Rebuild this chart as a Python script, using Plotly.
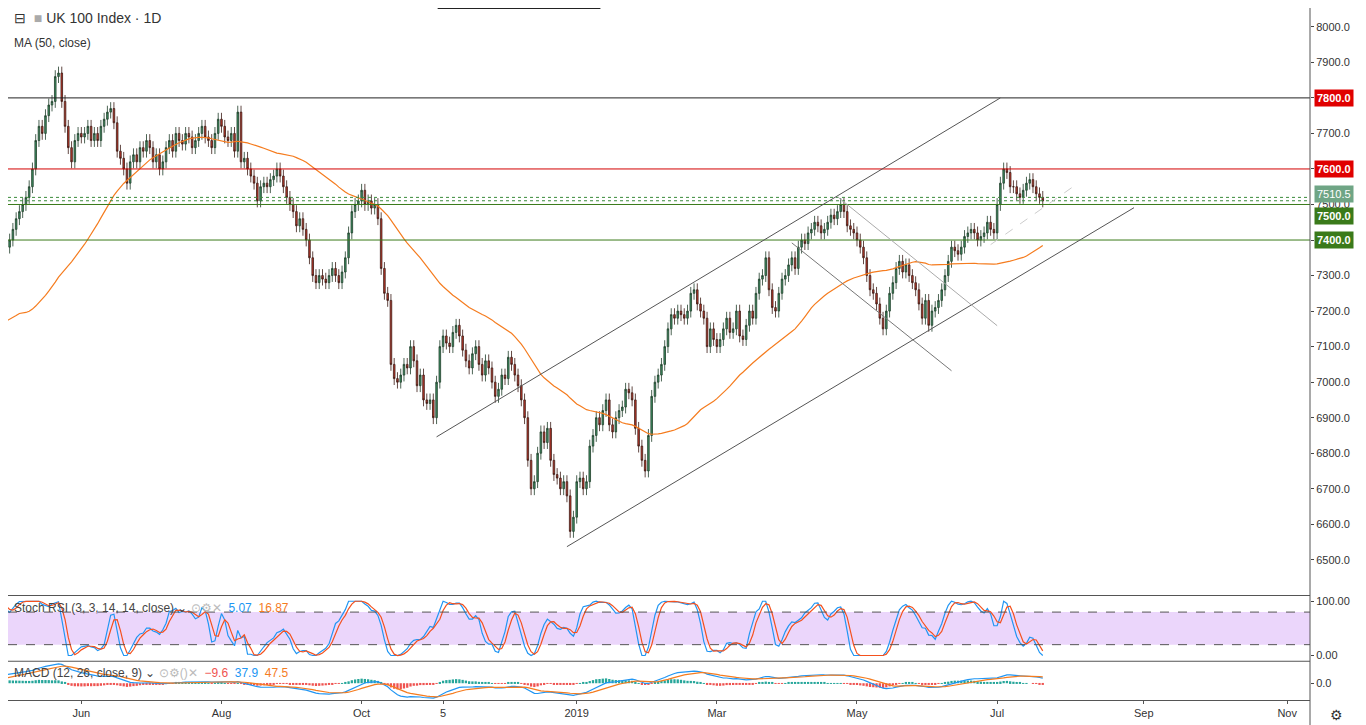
import pandas as pd
import numpy as np
import plotly.graph_objects as go

# ---------------- data (daily closes) ----------------
pre_closes = [7450,7420,7380,7300,7250,7260,7220,7180,7200,7230,7150,7170,7200,7180,7150,7100,7080,7050,7100,7060,
              7020,7000,6950,6920,6900,6940,6880,6980,7030,7050,7060,7100,7150,7200,7190,7180,7210,7260,7280,7300,
              7320,7350,7370,7390]
closes = [
 7350,7380,7400,7430,7460,7480,7500,7520,7550,7600,7680,7720,7700,7750,7780,7790,7860,7870,7790,7720,7660,7620,7680,7700,7690,
 7700,7720,7680,7700,7680,7720,7740,7760,7770,7730,7650,7630,7600,7560,7620,7640,7620,7660,7650,7680,7660,7620,7640,
 7600,7620,7660,7680,7650,7700,7680,7670,7700,7690,7660,7680,7700,7720,7690,7680,7660,7700,7740,7720,7690,7680,
 7700,7650,7760,7620,7630,7600,7580,7560,7510,7550,7560,7550,7570,7580,7600,7580,7550,7520,7500,7480,7440,7460,7430,
 7400,7350,7300,7280,7300,7290,7280,7300,7320,7300,7280,7310,7350,7420,7480,7500,7510,7540,7500,7510,
 7490,7500,7460,7320,7250,7230,7050,7010,7000,7020,7050,7040,7100,7060,6990,7020,6950,6940,6950,6900,7000,7100,7130,
 7110,7100,7140,7160,7130,7090,7060,7040,7080,7100,7050,7020,7060,7040,7000,6960,6980,7020,7010,7070,7050,7020,
 6990,6950,6900,6780,6700,6720,6800,6860,6830,6870,6780,6740,6730,6700,6720,6680,6580,6620,6720,
 6730,6700,6720,6820,6850,6900,6880,6920,6950,6880,6860,6900,6920,6930,6980,6970,6950,6870,6820,6780,6750,6850,
 6960,7000,7020,7050,7100,7150,7190,7180,7200,7190,7180,7200,7250,7260,7220,7200,7180,7100,7150,7120,
 7100,7120,7150,7180,7140,7150,7200,7130,7120,7160,7200,7180,7250,7290,7300,7350,7260,7210,7200,7250,7290,
 7300,7330,7350,7320,7380,7400,7390,7420,7430,7450,7440,7420,7430,7450,7470,7460,7480,7500,7480,7440,7430,7420,7400,
 7380,7350,7300,7260,7250,7220,7180,7150,7200,7250,7280,7320,7340,7310,7330,7300,7280,7260,7220,7180,7230,7160,
 7200,7210,7230,7260,7300,7340,7380,7370,7360,7380,7410,7420,7430,7420,7400,7410,7420,7450,7430,7420,
 7500,7560,7600,7590,7550,7550,7530,7520,7540,7560,7570,7550,7530,7520,7510,
]
levels = [7800, 7600, 7500, 7400]
level_colors = ["#222222", "#d40000", "#3a7a1a", "#3a7a1a"]
label_colors = ["#e00000", "#e00000", "#3a7a1a", "#3a7a1a"]
label_pos = [7800, 7600, 7468, 7400]
last_price = 7510.5
tick_months = ["2018-06-01","2018-08-01","2018-10-01","2018-11-05","2019-01-01","2019-03-01","2019-05-01","2019-07-01","2019-09-02","2019-11-01"]
tick_text = ["Jun","Aug","Oct","5","2019","Mar","May","Jul","Sep","Nov"]
trendlines = [
 (("2018-11-01",6846),("2019-07-02",7800),"#555555","solid"),
 (("2018-12-27",6537),("2019-08-28",7491),"#555555","solid"),
 (("2019-04-03",7392),("2019-06-11",7032),"#777777","solid"),
 (("2019-04-23",7522),("2019-07-01",7159),"#aaaaaa","solid"),
 (("2019-06-27",7387),("2019-08-05",7561),"#cccccc","dash"),
]

# ---------------- derived series ----------------
allc = pd.Series(pre_closes + closes, dtype=float)
alld = pd.bdate_range(end="2019-07-19", periods=len(allc))
opens = allc.shift(1).fillna(allc.iloc[0])
highs = np.maximum(opens, allc) + 18
lows = np.minimum(opens, allc) - 18
ma50 = allc.rolling(50, min_periods=1).mean()

delta = allc.diff()
up = delta.clip(lower=0).ewm(alpha=1/14, adjust=False).mean()
dn = (-delta.clip(upper=0)).ewm(alpha=1/14, adjust=False).mean()
rsi = 100 - 100/(1 + up/dn.replace(0, 1e-9))
st = (rsi - rsi.rolling(14).min()) / (rsi.rolling(14).max() - rsi.rolling(14).min()).replace(0, 1e-9) * 100
k = st.rolling(3).mean()
d = k.rolling(3).mean()
ema12 = allc.ewm(span=12, adjust=False).mean()
ema26 = allc.ewm(span=26, adjust=False).mean()
macd = ema12 - ema26
sig = macd.ewm(span=9, adjust=False).mean()
hist = macd - sig

n0 = len(pre_closes)
dates = alld[n0:]
sl = slice(n0, None)

fig = go.Figure()
fig.add_trace(go.Candlestick(x=dates, open=opens[sl], high=highs[sl], low=lows[sl], close=allc[sl],
    increasing=dict(line=dict(color="#1f3d2a", width=0.8), fillcolor="#3f8f63"),
    decreasing=dict(line=dict(color="#3a1a14", width=0.8), fillcolor="#c0392b"),
    whiskerwidth=0, xaxis="x", yaxis="y", showlegend=False, hoverinfo="skip"))
fig.add_trace(go.Scatter(x=dates, y=ma50[sl], mode="lines", line=dict(color="#f57c1f", width=1.2),
    xaxis="x", yaxis="y", showlegend=False, hoverinfo="skip"))
fig.add_trace(go.Scatter(x=dates, y=k[sl], mode="lines", line=dict(color="#2196f3", width=1.2), xaxis="x", yaxis="y2", showlegend=False))
fig.add_trace(go.Scatter(x=dates, y=d[sl], mode="lines", line=dict(color="#f4511e", width=1.2), xaxis="x", yaxis="y2", showlegend=False))
hcol = ["#26a69a" if h >= 0 else "#ef5350" for h in hist[sl]]
fig.add_trace(go.Bar(x=dates, y=hist[sl], marker=dict(color=hcol, line=dict(width=0)), xaxis="x", yaxis="y3", showlegend=False))
fig.add_trace(go.Scatter(x=dates, y=macd[sl], mode="lines", line=dict(color="#2196f3", width=1.2), xaxis="x", yaxis="y3", showlegend=False))
fig.add_trace(go.Scatter(x=dates, y=sig[sl], mode="lines", line=dict(color="#f57c1f", width=1.2), xaxis="x", yaxis="y3", showlegend=False))

shapes = []
for lv, c in zip(levels, level_colors):
    shapes.append(dict(type="line", xref="x domain", x0=0, x1=1, yref="y", y0=lv, y1=lv, line=dict(color=c, width=1)))
for yv in (7510.5, 7520):
    shapes.append(dict(type="line", xref="x domain", x0=0, x1=1, yref="y", y0=yv, y1=yv, line=dict(color="#3a8a3a", width=1, dash="dot")))
for (a, b, c, dsh) in trendlines:
    shapes.append(dict(type="line", xref="x", yref="y", x0=a[0], y0=a[1], x1=b[0], y1=b[1], line=dict(color=c, width=1, dash=dsh)))
shapes.append(dict(type="rect", xref="x domain", x0=0, x1=1, yref="y2", y0=20, y1=80, fillcolor="#e6ccfa", opacity=0.8, line=dict(width=0), layer="below"))
for yv in (20, 80):
    shapes.append(dict(type="line", xref="x domain", x0=0, x1=1, yref="y2", y0=yv, y1=yv, line=dict(color="#555", width=1, dash="dash")))
for yy in (0.056, 0.151):
    shapes.append(dict(type="line", xref="paper", yref="paper", x0=0, x1=1, y0=yy, y1=yy, line=dict(color="#555", width=1.2)))
shapes.append(dict(type="line", xref="paper", yref="paper", x0=1, x1=1, y0=-0.04, y1=1, line=dict(color="#555", width=1)))
shapes.append(dict(type="line", xref="paper", yref="paper", x0=0.33, x1=0.455, y0=1, y1=1, line=dict(color="#222", width=2)))

ann = []
for lv, lp, c in zip(levels, label_pos, label_colors):
    ann.append(dict(xref="paper", yref="y", x=1.003, y=lp, text=f"<b>{lv:.1f}</b>", showarrow=False, xanchor="left",
                    bgcolor=c, font=dict(color="white", size=11), borderpad=2))
ann.append(dict(xref="paper", yref="y", x=1.003, y=7530, text=f"{last_price:.1f}", showarrow=False, xanchor="left",
                bgcolor="#6fa585", font=dict(color="white", size=11), borderpad=2))
ann.append(dict(xref="paper", yref="paper", x=0.003, y=1.0, yanchor="top", xanchor="left", showarrow=False,
                text="⊟  <span style='color:#aaa'>■</span> UK 100 Index · 1D", font=dict(size=14, color="#333")))
ann.append(dict(xref="paper", yref="paper", x=0.003, y=0.962, yanchor="top", xanchor="left", showarrow=False,
                text="MA (50, close)", font=dict(size=12, color="#333")))
ann.append(dict(xref="paper", yref="paper", x=0.003, y=0.146, yanchor="top", xanchor="left", showarrow=False,
                text="Stoch RSI (3, 3, 14, 14, close) ⌄ <span style='color:#bbb'>⊙⚙✕</span>  <span style='color:#2196f3'>5.07</span>  <span style='color:#f57c1f'>16.87</span>",
                font=dict(size=12, color="#444")))
ann.append(dict(xref="paper", yref="paper", x=0.003, y=0.052, yanchor="top", xanchor="left", showarrow=False,
                text="MACD (12, 26, close, 9) ⌄ <span style='color:#bbb'>⊙⚙()✕</span>  <span style='color:#ef5350'>−9.6</span>  <span style='color:#2196f3'>37.9</span>  <span style='color:#f57c1f'>47.5</span>",
                font=dict(size=12, color="#444")))
ann.append(dict(xref="paper", yref="paper", x=1.02, y=-0.022, yanchor="middle", xanchor="center", showarrow=False,
                text="⚙", font=dict(size=14, color="#333")))

fig.update_layout(
    width=1366, height=725, margin=dict(l=0, r=64, t=0, b=33, autoexpand=False),
    paper_bgcolor="white", plot_bgcolor="white", shapes=shapes, annotations=ann, bargap=0.3,
    font=dict(family="Arial, Liberation Sans", size=11, color="#333"),
    xaxis=dict(type="date", range=["2018-05-01 12:00", "2019-11-12"], rangebreaks=[dict(bounds=["sat", "mon"])],
               rangeslider=dict(visible=False), tickvals=tick_months, ticktext=tick_text, showgrid=False,
               ticks="outside", ticklen=3, tickcolor="#555", anchor="y3", showline=True, linecolor="#555",
               zeroline=False, automargin=False, tickfont=dict(size=11)),
    yaxis=dict(domain=[0.152, 1], range=[6401.5, 8053], side="right", tickvals=list(range(6500, 8001, 100)),
               ticktext=[f"{v:.1f}" for v in range(6500, 8001, 100)], showgrid=False, ticks="outside", ticklen=3,
               zeroline=False, automargin=False, tickfont=dict(size=11)),
    yaxis2=dict(domain=[0.058, 0.149], range=[-8, 108], side="right", tickvals=[0, 100], ticktext=["0.00", "100.00"],
                showgrid=False, ticks="outside", ticklen=3, zeroline=False, automargin=False, tickfont=dict(size=11)),
    yaxis3=dict(domain=[0, 0.055], side="right", tickvals=[0], ticktext=["0.0"], showgrid=False, ticks="outside",
                ticklen=3, zeroline=False, automargin=False, tickfont=dict(size=11)),
)
fig.write_html("out.html")
